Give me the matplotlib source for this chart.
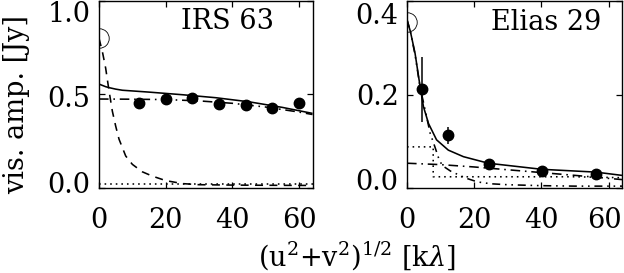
import matplotlib
matplotlib.use("Agg")
import matplotlib.pyplot as plt
from matplotlib.transforms import ScaledTranslation

plt.rcParams['font.family'] = ['DejaVu Serif']
plt.rcParams['mathtext.fontset'] = 'dejavuserif'

# ---------------- IRS 63 ----------------
irs_x = [12, 20, 28, 36, 44, 52, 60]
irs_y = [0.452, 0.475, 0.479, 0.448, 0.443, 0.428, 0.455]
irs_circle = (0.0, 0.80)

irs_tot_x = [0, 1, 2, 3, 5, 7, 15, 25, 35, 45, 55, 64]
irs_tot_y = [0.555, 0.548, 0.541, 0.536, 0.528, 0.522, 0.512, 0.498, 0.482, 0.460, 0.430, 0.398]

irs_dd_x = [0, 10, 20, 30, 40, 50, 60, 64]
irs_dd_y = [0.475, 0.474, 0.472, 0.465, 0.452, 0.432, 0.405, 0.392]

irs_env_x = [0, 1, 2, 3, 4, 5, 6, 8, 10, 13, 16, 20, 25, 30, 40, 50, 64]
irs_env_y = [0.80, 0.73, 0.64, 0.52, 0.41, 0.33, 0.26, 0.17, 0.125, 0.085, 0.062, 0.038, 0.022, 0.016, 0.014, 0.013, 0.012]

irs_dot_x = [0, 64]
irs_dot_y = [0.018, 0.018]

# ---------------- Elias 29 ----------------
el_x = [4.5, 12.3, 24.3, 40.1, 56.2]
el_y = [0.211, 0.113, 0.051, 0.036, 0.031]
el_err = [0.07, 0.018, 0.004, 0.004, 0.01]
el_circle = (0.0, 0.355)

el_tot_x = [0, 1, 2.4, 3.9, 4.9, 6.4, 8.8, 12.3, 16.8, 24.2, 40.1, 56.2, 64]
el_tot_y = [0.36, 0.335, 0.288, 0.217, 0.174, 0.138, 0.103, 0.081, 0.067, 0.053, 0.040, 0.034, 0.027]

el_env_x = [0, 1, 2.4, 3.9, 5.0, 6.9, 8.3, 9.5, 10.5, 13, 16, 18, 21, 25, 30, 40, 50, 64]
el_env_y = [0.36, 0.335, 0.285, 0.215, 0.18, 0.117, 0.088, 0.062, 0.048, 0.036, 0.026, 0.020, 0.013, 0.009, 0.007, 0.005, 0.004, 0.004]

el_dd_x = [0, 10, 20, 30, 40, 50, 64]
el_dd_y = [0.053, 0.050, 0.045, 0.039, 0.033, 0.027, 0.018]

el_dot_x = [0, 7.8, 7.8, 30, 50, 64]
el_dot_y = [0.088, 0.088, 0.024, 0.024, 0.024, 0.022]

W, H = 6.24, 2.73
fig = plt.figure(figsize=(W, H), dpi=100)

def px_ax(x0, x1, y0, y1):
    return fig.add_axes([x0 / 624, 1 - y1 / 273, (x1 - x0) / 624, (y1 - y0) / 273])

ax1 = px_ax(99, 312.5, 1, 187.7)
ax2 = px_ax(407, 622, 1, 188)

lw = 1.15
FS = 19.5

def shift(lab, dx, dy):
    lab.set_transform(lab.get_transform() + ScaledTranslation(dx / 100, dy / 100, fig.dpi_scale_trans))

def style(ax, ylim, yticks, ylabels, shifts):
    ax.set_xlim(0, 64)
    ax.set_ylim(*ylim)
    ax.set_xticks([0, 20, 40, 60])
    ax.set_yticks(yticks)
    ax.set_yticklabels(ylabels)
    ax.tick_params(direction='in', top=True, right=True, length=4, width=0.9,
                   labelsize=FS)
    ax.tick_params(axis='x', pad=14)
    ax.tick_params(axis='y', pad=6)
    for s in ax.spines.values():
        s.set_linewidth(1.0)
    for lab, dy in zip(ax.get_yticklabels(), shifts):
        shift(lab, 0, dy)

# IRS 63
ax1.plot(irs_tot_x, irs_tot_y, color='k', lw=lw, solid_capstyle='butt')
ax1.plot(irs_dd_x, irs_dd_y, color='k', lw=lw, dashes=(6, 3, 1, 3))
ax1.plot(irs_env_x, irs_env_y, color='k', lw=lw, dashes=(5, 4))
ax1.plot(irs_dot_x, irs_dot_y, color='k', lw=lw, dashes=(1, 2.5))
ax1.plot(irs_x, irs_y, 'o', color='k', ms=7.5, zorder=5)
ax1.plot([irs_circle[0]], [irs_circle[1]], 'o', mfc='none', mec='k', mew=0.6, ms=14, clip_on=True)
ax1.text(24.5, 0.888, 'IRS 63', fontsize=FS, ha='left', va='center')
style(ax1, (0, 1.0), [0, 0.5, 1.0], ['0.0', '0.5', '1.0'], [5, -2, -11])

# Elias 29
ax2.plot(el_tot_x, el_tot_y, color='k', lw=lw)
ax2.plot(el_env_x, el_env_y, color='k', lw=lw, dashes=(5, 3, 1, 3, 1, 3))
ax2.plot(el_dd_x, el_dd_y, color='k', lw=lw, dashes=(6, 3, 1, 3))
ax2.plot(el_dot_x, el_dot_y, color='k', lw=lw, dashes=(1, 2.5))
ax2.errorbar(el_x, el_y, yerr=el_err, fmt='o', color='k', ms=7.5, elinewidth=1.1, capsize=0, zorder=5)
ax2.plot([el_circle[0]], [el_circle[1]], 'o', mfc='none', mec='k', mew=0.6, ms=14, clip_on=True)
ax2.text(25, 0.355, 'Elias 29', fontsize=FS, ha='left', va='center')
style(ax2, (0, 0.4), [0, 0.2, 0.4], ['0.0', '0.2', '0.4'], [8, 0, -12])
shift(ax2.get_xticklabels()[-1], -4, 0)

fig.text(17 / 624, 1 - 104 / 273, 'vis. amp. [Jy]', rotation=90, fontsize=FS,
         ha='center', va='center')
fig.text(357 / 624, 1 - 256 / 273, r'(u$^2$+v$^2$)$^{1/2}$ [k$\lambda$]', fontsize=FS,
         ha='center', va='center')

fig.savefig('out.png', dpi=100)
